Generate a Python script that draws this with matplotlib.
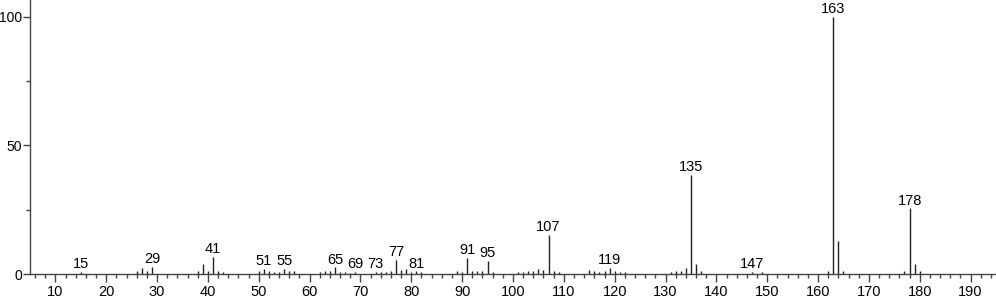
import matplotlib
matplotlib.use("Agg")
import matplotlib.pyplot as plt
from matplotlib.ticker import MultipleLocator

plt.rcParams['font.family'] = ['Liberation Sans', 'DejaVu Sans']

mz = [15, 26, 27, 28, 29, 38, 39, 40, 41, 42, 43,
      50, 51, 52, 53, 54, 55, 56, 57, 62, 63, 64, 65, 66, 67, 68, 69,
      73, 74, 75, 76, 77, 78, 79, 80, 81, 82,
      89, 90, 91, 92, 93, 94, 95, 96,
      101, 102, 103, 104, 105, 106, 107, 108, 109,
      115, 116, 117, 118, 119, 120, 121, 122,
      131, 132, 133, 134, 135, 136, 137,
      147, 149, 162, 163, 164, 165, 177, 178, 179, 180]
intensity = [0.8, 1.0, 2.3, 1.0, 2.8, 1.2, 3.9, 1.0, 6.7, 1.0, 0.8,
             1.0, 2.0, 1.0, 0.8, 0.6, 2.0, 1.0, 1.0, 0.6, 1.0, 1.0, 2.6, 0.8, 0.8, 0.5, 0.8,
             0.8, 0.8, 0.8, 1.0, 5.6, 1.5, 2.0, 0.8, 1.0, 0.6,
             1.0, 0.8, 6.3, 1.0, 1.3, 1.0, 5.2, 0.8,
             0.6, 0.8, 1.2, 1.0, 1.8, 1.5, 15.1, 1.0, 0.6,
             1.5, 1.0, 0.8, 1.0, 2.4, 1.0, 0.8, 0.6,
             0.8, 1.0, 1.3, 2.3, 38.5, 3.9, 1.0,
             0.8, 0.8, 1.3, 100.0, 12.8, 1.2, 1.0, 25.6, 4.0, 1.0]
labeled = [15, 29, 41, 51, 55, 65, 69, 73, 77, 81, 91, 95, 107, 119, 135, 147, 163, 178]

fig = plt.figure(figsize=(9.96, 2.99), dpi=100)
ax = fig.add_axes([0.0301, 0.0836, 0.9699, 0.9164])

ax.vlines(mz, 0, intensity, colors='#222222', linewidth=1.0)
lookup = dict(zip(mz, intensity))
for m in labeled:
    ax.annotate(str(m), xy=(m, lookup[m]), xytext=(0, 0.5), textcoords='offset points',
                ha='center', va='bottom', fontsize=10.5, color='black')

ax.set_xlim(5, 195)
ax.set_ylim(0, 106.6)
ax.xaxis.set_minor_locator(MultipleLocator(2))
ax.yaxis.set_major_locator(MultipleLocator(50))
ax.yaxis.set_minor_locator(MultipleLocator(25))
ax.set_xticks(range(10, 191, 10))

for s in ['top', 'right']:
    ax.spines[s].set_visible(False)
for s in ['left', 'bottom']:
    ax.spines[s].set_color('#444444')
    ax.spines[s].set_linewidth(1.0)

ax.tick_params(which='major', direction='out', length=6, width=1, color='#444444',
               labelcolor='black')
ax.tick_params(axis='y', which='major', length=5, labelsize=10, pad=0.5)
ax.tick_params(axis='x', which='major', labelsize=10.5, pad=2)
ax.tick_params(which='minor', direction='out', length=3, width=1, color='#444444')

fig.savefig('out.png', dpi=100)
